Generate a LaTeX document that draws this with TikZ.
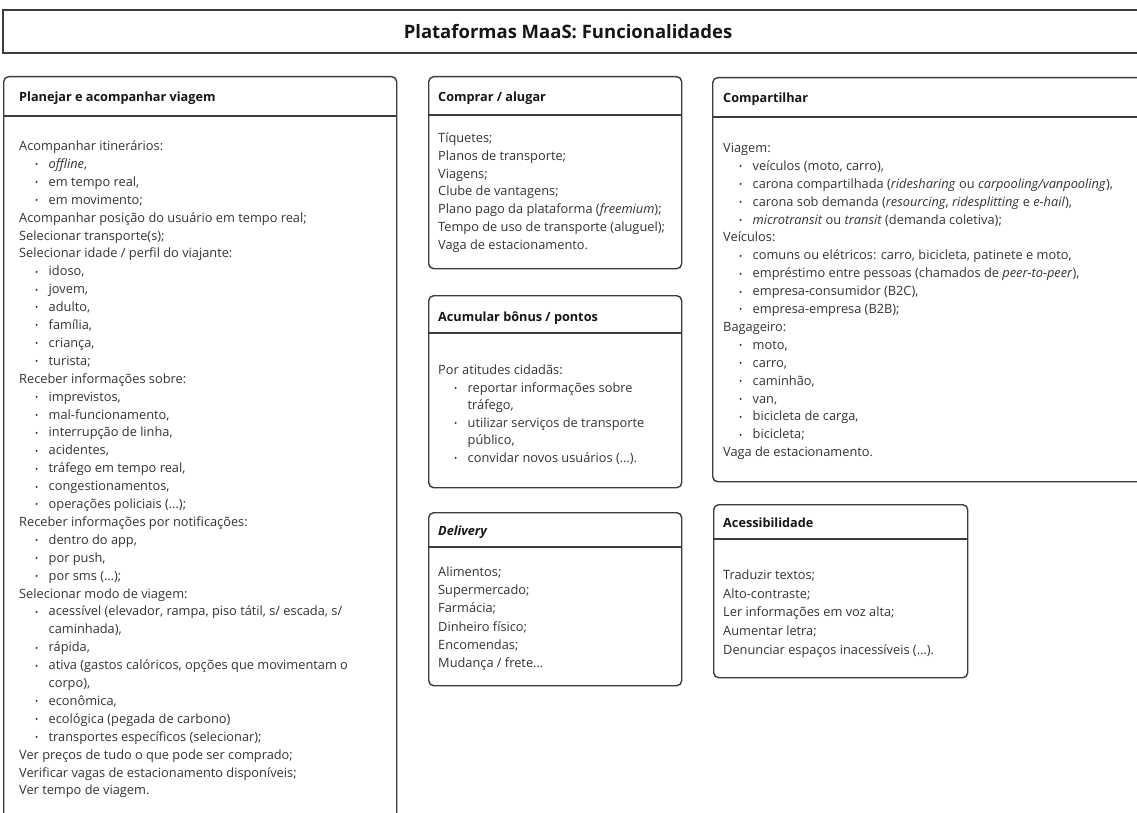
\documentclass[tikz,border=0pt]{standalone}
\usepackage{fontspec}
\setmainfont{Open Sans}
\definecolor{bodyc}{HTML}{333333}
\definecolor{headc}{HTML}{161616}
\definecolor{bordc}{HTML}{3C3C3C}
\newcommand{\bul}{{\fontsize{8.5}{8.5}\selectfont\raisebox{0.6pt}{•}}}
\newcommand{\itm}[1]{\hspace*{16pt}\makebox[13.5pt][l]{\bul}#1}
\newcommand{\cnt}[1]{\hspace*{29.5pt}#1}
\newcommand{\bodyfmt}[1]{\fontsize{12.8}{#1}\selectfont\raggedright}
\tikzset{
  card/.style={draw=bordc, line width=1.4pt, rounded corners=5pt, anchor=north west, inner sep=0pt},
  sepline/.style={draw=bordc, line width=1.4pt},
  hdr/.style={anchor=base west, inner sep=0pt, text=headc, font=\fontsize{12.7}{14}\selectfont\bfseries},
  body/.style={anchor=base west, inner sep=0pt, text=bodyc},
  ttl/.style={anchor=base, inner sep=0pt, text=headc, font=\fontsize{18.5}{22}\selectfont\bfseries},
}
\begin{document}
\begin{tikzpicture}[x=1pt,y=-1pt]
\useasboundingbox (0,0) rectangle (1137,813);
\clip (0,0) rectangle (1137,813);
\fill[white] (0,0) rectangle (1137,813);

% title
\draw[sepline] (3,10) rectangle (1150,53);
\node[ttl] (title) at (568,38.5) {Plataformas MaaS: Funcionalidades};

% header line coordinates
\coordinate (l1) at (0,116);
\coordinate (l2) at (0,115);
\coordinate (l3) at (0,333);
\coordinate (l4) at (0,547);
\coordinate (l5) at (0,117);
\coordinate (l6) at (0,539);

% cards
\node[card, minimum width=393pt, minimum height=780pt] (c1) at (3,76) {};
\node[card, minimum width=253pt, minimum height=192pt] (c2) at (428,76) {};
\node[card, minimum width=253pt, minimum height=192pt] (c3) at (428,295) {};
\node[card, minimum width=253pt, minimum height=173pt] (c4) at (428,512) {};
\node[card, minimum width=460pt, minimum height=404pt] (c5) at (712,77) {};
\node[card, minimum width=254pt, minimum height=173pt] (c6) at (713,504) {};

\draw[sepline] (c1.west |- l1) -- (c1.east |- l1);
\draw[sepline] (c2.west |- l2) -- (c2.east |- l2);
\draw[sepline] (c3.west |- l3) -- (c3.east |- l3);
\draw[sepline] (c4.west |- l4) -- (c4.east |- l4);
\draw[sepline] (c5.west |- l5) -- (c5.east |- l5);
\draw[sepline] (c6.west |- l6) -- (c6.east |- l6);

% headers
\node[hdr] (h1) at (19,101.5) {Planejar e acompanhar viagem};
\node[hdr] (h2) at (438,101.5) {Comprar / alugar};
\node[hdr] (h3) at (438,321.5) {Acumular bônus / pontos};
\node[hdr] (h4) at (438,535.5) {\itshape Delivery};
\node[hdr] (h5) at (723,102.5) {Compartilhar};
\node[hdr] (h6) at (723,527.5) {Acessibilidade};

% bodies
\node[body] (b1) at (19,150.5) {\parbox[t]{370pt}{\bodyfmt{17.9}%
Acompanhar itinerários:\\
\itm{\textit{offline},}\\
\itm{em tempo real,}\\
\itm{em movimento;}\\
Acompanhar posição do usuário em tempo real;\\
Selecionar transporte(s);\\
Selecionar idade / perfil do viajante:\\
\itm{idoso,}\\
\itm{jovem,}\\
\itm{adulto,}\\
\itm{família,}\\
\itm{criança,}\\
\itm{turista;}\\
Receber informações sobre:\\
\itm{imprevistos,}\\
\itm{mal-funcionamento,}\\
\itm{interrupção de linha,}\\
\itm{acidentes,}\\
\itm{tráfego em tempo real,}\\
\itm{congestionamentos,}\\
\itm{operações policiais (…);}\\
Receber informações por notificações:\\
\itm{dentro do app,}\\
\itm{por push,}\\
\itm{por sms (…);}\\
Selecionar modo de viagem:\\
\itm{acessível (elevador, rampa, piso tátil, s/ escada, s/}\\
\cnt{caminhada),}\\
\itm{rápida,}\\
\itm{ativa (gastos calóricos, opções que movimentam o}\\
\cnt{corpo),}\\
\itm{econômica,}\\
\itm{ecológica (pegada de carbono)}\\
\itm{transportes específicos (selecionar);}\\
Ver preços de tudo o que pode ser comprado;\\
Verificar vagas de estacionamento disponíveis;\\
Ver tempo de viagem.}};

\node[body] (b2) at (438,142.5) {\parbox[t]{245pt}{\bodyfmt{17.8}%
Tíquetes;\\
Planos de transporte;\\
Viagens;\\
Clube de vantagens;\\
Plano pago da plataforma (\textit{freemium});\\
Tempo de uso de transporte (aluguel);\\
Vaga de estacionamento.}};

\node[body] (b3) at (438,374.5) {\parbox[t]{245pt}{\bodyfmt{17.6}%
Por atitudes cidadãs:\\
\itm{reportar informações sobre}\\
\cnt{tráfego,}\\
\itm{utilizar serviços de transporte}\\
\cnt{público,}\\
\itm{convidar novos usuários (…).}}};

\node[body] (b4) at (438,576.5) {\parbox[t]{245pt}{\bodyfmt{18.2}%
Alimentos;\\
Supermercado;\\
Farmácia;\\
Dinheiro físico;\\
Encomendas;\\
Mudança / frete…}};

\node[body] (b5) at (723,152.5) {\parbox[t]{410pt}{\bodyfmt{17.9}%
Viagem:\\
\itm{veículos (moto, carro),}\\
\itm{carona compartilhada (\textit{ridesharing} ou \textit{carpooling/vanpooling}),}\\
\itm{carona sob demanda (\textit{resourcing}, \textit{ridesplitting} e \textit{e-hail}),}\\
\itm{\textit{microtransit} ou \textit{transit} (demanda coletiva);}\\
Veículos:\\
\itm{comuns ou elétricos: carro, bicicleta, patinete e moto,}\\
\itm{empréstimo entre pessoas (chamados de \textit{peer-to-peer}),}\\
\itm{empresa-consumidor (B2C),}\\
\itm{empresa-empresa (B2B);}\\
Bagageiro:\\
\itm{moto,}\\
\itm{carro,}\\
\itm{caminhão,}\\
\itm{van,}\\
\itm{bicicleta de carga,}\\
\itm{bicicleta;}\\
Vaga de estacionamento.}};

\node[body] (b6) at (723,579.5) {\parbox[t]{240pt}{\bodyfmt{18.7}%
Traduzir textos;\\
Alto-contraste;\\
Ler informações em voz alta;\\
Aumentar letra;\\
Denunciar espaços inacessíveis (…).}};
\end{tikzpicture}
\end{document}
